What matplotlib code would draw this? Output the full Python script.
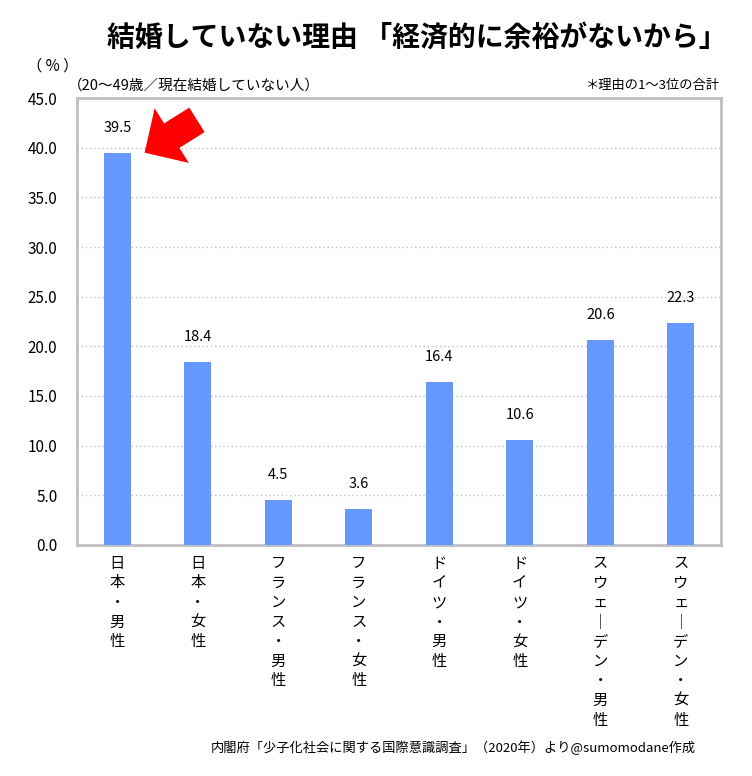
import matplotlib.pyplot as plt
import numpy as np

plt.rcParams['font.family'] = ['Noto Sans CJK JP', 'DejaVu Sans']

# データ
categories = ['日本・男性', '日本・女性', 'フランス・男性', 'フランス・女性',
              'ドイツ・男性', 'ドイツ・女性', 'スウェーデン・男性', 'スウェーデン・女性']
values = [39.5, 18.4, 4.5, 3.6, 16.4, 10.6, 20.6, 22.3]
yticks = [0, 5, 10, 15, 20, 25, 30, 35, 40, 45]

bar_color = '#6699FF'
spine_color = '#BFBFBF'

fig = plt.figure(figsize=(7.52, 7.76), dpi=100)
ax = fig.add_axes([0.1024, 0.2977, 0.8564, 0.576])

x = np.arange(len(categories))
ax.bar(x, values, width=0.335, color=bar_color, zorder=3)

# 値ラベル
for xi, v in zip(x, values):
    ax.annotate(f'{v:.1f}', (xi, v), xytext=(0, 13), textcoords='offset points',
                ha='center', va='bottom', fontsize=10.5)

ax.set_xlim(-0.5, len(categories) - 0.5)
ax.set_ylim(0, 45)
ax.set_yticks(yticks)
ax.set_yticklabels([f'{t:.1f}' for t in yticks], fontsize=11)
ax.tick_params(axis='y', length=0, pad=14)
ax.set_xticks([])
ax.yaxis.grid(True, linestyle=(0, (1, 2)), color='#BFBFBF', linewidth=1, zorder=0)

for s in ax.spines.values():
    s.set_color(spine_color)
    s.set_linewidth(2)

# 縦書きのカテゴリラベル
for xi, c in zip(x, categories):
    vert = '\n'.join(c.replace('ー', '｜'))
    ax.text(xi, -0.022, vert, transform=ax.get_xaxis_transform(),
            ha='center', va='top', fontsize=11, linespacing=1.2)

# 矢印
ax.annotate('', xy=(0.34, 39.5), xytext=(0.99, 42.8),
            arrowprops=dict(arrowstyle='simple,head_length=0.72,head_width=1.45,tail_width=0.65',
                            mutation_scale=32, color='red', lw=0, shrinkA=0, shrinkB=0),
            zorder=5)

fig.text(0.554, 0.952, '結婚していない理由 「経済的に余裕がないから」',
         ha='center', va='center', fontsize=20.1, fontweight='bold')
fig.text(0.036, 0.915, '（ % ）', ha='left', va='center', fontsize=11)
fig.text(0.090, 0.890, '（20〜49歳／現在結婚していない人）', ha='left', va='center', fontsize=10.5)
fig.text(0.958, 0.890, '＊理由の1〜3位の合計', ha='right', va='center', fontsize=9.5)
fig.text(0.925, 0.036, '内閣府「少子化社会に関する国際意識調査」（2020年）より@sumomodane作成',
         ha='right', va='center', fontsize=9.5)

fig.savefig('out.png', dpi=100)
